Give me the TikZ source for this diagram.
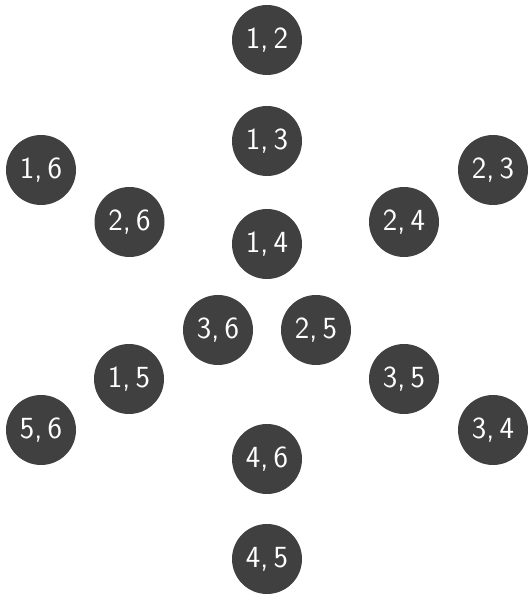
\documentclass[tikz,border=0pt]{standalone}
\usepackage{xcolor}
\usepackage{tikz}
\usetikzlibrary{positioning}
\definecolor{pairgray}{HTML}{404040}

\begin{document}
\begin{tikzpicture}[
  pair/.style={circle,fill=pairgray,text=white,inner sep=0pt,minimum size=1.40cm,font=\sffamily\fontsize{17.5}{21}\selectfont}]
\useasboundingbox (0,0) rectangle (10.56,11.92);
\node[pair] (n12) at (5.34,11.12) {1,\,2};
\node[pair] (n13) at (5.34,9.10) {1,\,3};
\node[pair] (n16) at (0.82,8.52) {1,\,6};
\node[pair] (n23) at (9.86,8.52) {2,\,3};
\node[pair] (n26) at (2.59,7.48) {2,\,6};
\node[pair] (n24) at (8.08,7.48) {2,\,4};
\node[pair] (n14) at (5.34,7.04) {1,\,4};
\node[pair] (n36) at (4.36,5.32) {3,\,6};
\node[pair] (n25) at (6.32,5.32) {2,\,5};
\node[pair] (n15) at (2.58,4.34) {1,\,5};
\node[pair] (n35) at (8.08,4.34) {3,\,5};
\node[pair] (n56) at (0.82,3.32) {5,\,6};
\node[pair] (n34) at (9.86,3.32) {3,\,4};
\node[pair] (n46) at (5.34,2.74) {4,\,6};
\node[pair] (n45) at (5.34,0.74) {4,\,5};
\end{tikzpicture}
\end{document}
